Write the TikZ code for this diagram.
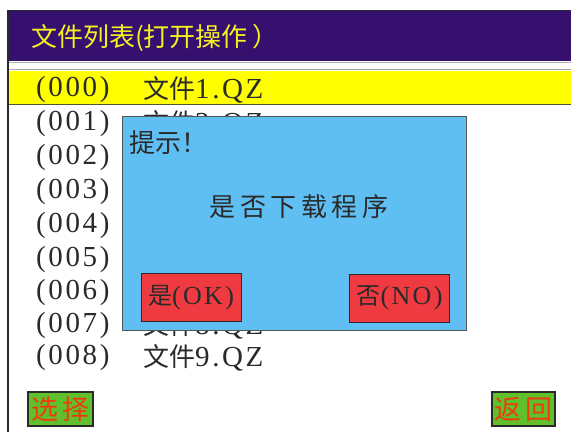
\documentclass[tikz,border=0pt]{standalone}
\usepackage{fontspec}
\newfontfamily\cjk{Noto Sans CJK SC}
\newfontfamily\cjkls[LetterSpace=17]{Noto Sans CJK SC}
\newfontfamily\lat[LetterSpace=9]{Liberation Serif}
\newcommand\latbig{\lat\fontsize{29}{29}\selectfont}
\newcommand\latbtn{\lat\fontsize{26}{26}\selectfont}
\definecolor{titlec}{HTML}{35106F}
\definecolor{titletxt}{HTML}{F5F020}
\definecolor{rowyel}{HTML}{FFFF00}
\definecolor{dlgblue}{HTML}{60BFF2}
\definecolor{btnred}{HTML}{EE3A40}
\definecolor{btngreen}{HTML}{5FC02C}
\definecolor{btntxt}{HTML}{F03A10}
\definecolor{ink}{HTML}{2A2A2A}
\tikzset{
  rowtxt/.style={anchor=west, inner sep=0pt, text=ink, font=\fontsize{26}{26}\selectfont},
  dlgbox/.style={draw=ink!80, line width=1pt, fill=dlgblue, minimum width=344pt, minimum height=214pt, inner sep=0pt},
  redbtn/.style={draw=ink, line width=1pt, fill=btnred, minimum width=100pt, minimum height=48pt, inner sep=0pt, text=ink, font=\cjk\fontsize{24}{24}\selectfont},
  greenbtn/.style={draw=ink, line width=1.8pt, fill=btngreen, minimum height=34pt, inner sep=0pt, text=btntxt, font=\cjkls\fontsize{27}{27}\selectfont},
}
\begin{document}
\begin{tikzpicture}[x=1pt,y=-1pt]
\useasboundingbox (0,0) rectangle (571,432);
\fill[white] (0,0) rectangle (571,432);
% title bar
\fill[titlec] (8,10) rectangle (571,61);
\draw[ink, line width=1pt] (8,10) -- (571,10);
\node[anchor=west, inner sep=0pt, text=titletxt, font=\cjk\fontsize{26}{26}\selectfont] (title) at (31,38) {文件列表(打开操作\,）};
% separators
\draw[gray!60, line width=1.5pt] (8,62.5) -- (571,62.5);
\draw[gray!70, line width=1.5pt] (8,69.5) -- (571,69.5);
\fill[rowyel] (8,70.5) rectangle (571,104);
\draw[black!50!olive, line width=1.5pt] (8,104.5) -- (571,104.5);
\draw[ink, line width=1.2pt] (8,10) -- (8,432);
% rows: index column
\foreach \i/\y in {0/90,1/124,2/158,3/192,4/226,5/260,6/293,7/326,8/358}{
  \node[rowtxt] (idx\i) at (36,\y) {\latbig (00\i)};
}
% file names (those of rows 002-006 lie wholly under the dialog)
\foreach \i/\y/\f in {0/90/1,1/124/2,7/326/8,8/358/9}{
  \node[rowtxt] (fn\i) at (143,\y) {\cjk 文件\latbig\f.QZ};
}
% dialog
\node[dlgbox] (dlg) at (294,223) {};
\node[anchor=west, inner sep=0pt, text=ink, font=\cjk\fontsize{26}{26}\selectfont] (hint) at (129,143) {提示！};
\node[inner sep=0pt, text=ink, font=\cjkls\fontsize{26}{26}\selectfont] (msg) at (299,207) {是否下载程序};
\node[redbtn] (ok) at (191,297.5) {是\latbtn(OK)};
\node[redbtn] (no) at (399.5,298) {否\latbtn(NO)};
% bottom buttons
\node[greenbtn, minimum width=65pt] (sel) at (60.5,409) {选择};
\node[greenbtn, minimum width=63pt] (ret) at (523.5,409) {返回};
\end{tikzpicture}
\end{document}
